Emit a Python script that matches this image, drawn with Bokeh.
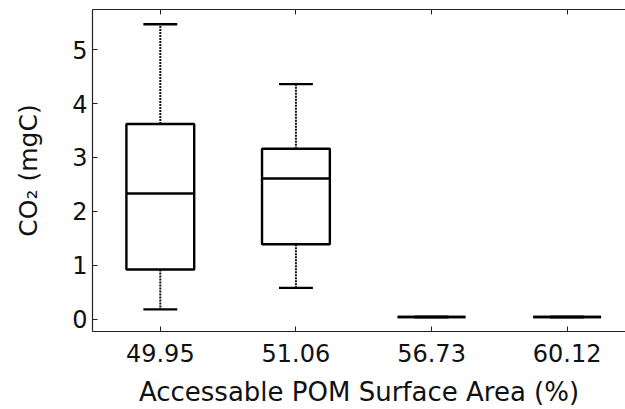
from bokeh.plotting import figure
from bokeh.models import LinearAxis, FixedTicker, Range1d
from bokeh.embed import file_html
from bokeh.resources import INLINE

# data
categories = ["49.95", "51.06", "56.73", "60.12"]
lower_whisker = [0.18, 0.58, 0.04, 0.04]
q1 = [0.92, 1.39, 0.04, 0.04]
median = [2.33, 2.61, 0.04, 0.04]
q3 = [3.62, 3.16, 0.04, 0.04]
upper_whisker = [5.47, 4.36, 0.04, 0.04]
y_ticks = [0, 1, 2, 3, 4, 5]

pos = [i + 1 for i in range(len(categories))]
box_half = 0.25
cap_half = 0.125

FONT = "DejaVu Sans"

p = figure(width=625, height=409, output_backend="svg", toolbar_location=None,
           x_range=Range1d(0.5, 4.43), y_range=Range1d(-0.23, 5.745),
           min_border_left=92, min_border_right=0, min_border_top=9, min_border_bottom=76,
           x_axis_location=None, y_axis_location=None)
p.outline_line_color = None
p.grid.visible = False
p.background_fill_color = "white"
p.border_fill_color = "white"

# whiskers (dotted)
p.segment(x0=pos, y0=q3, x1=pos, y1=upper_whisker, line_color="#111111", line_width=2, line_dash="2 1")
p.segment(x0=pos, y0=q1, x1=pos, y1=lower_whisker, line_color="#111111", line_width=2, line_dash="2 1")
# caps
p.segment(x0=[x - cap_half for x in pos], y0=upper_whisker, x1=[x + cap_half for x in pos], y1=upper_whisker,
          line_color="black", line_width=2.4)
p.segment(x0=[x - cap_half for x in pos], y0=lower_whisker, x1=[x + cap_half for x in pos], y1=lower_whisker,
          line_color="black", line_width=2.4)
# boxes
p.quad(left=[x - box_half for x in pos], right=[x + box_half for x in pos], bottom=q1, top=q3,
       fill_color=None, line_color="black", line_width=2.4)
# medians
p.segment(x0=[x - box_half for x in pos], y0=median, x1=[x + box_half for x in pos], y1=median,
          line_color="black", line_width=2.4)

def style(ax):
    ax.axis_line_color = "#222222"
    ax.axis_line_width = 1.2
    ax.major_tick_line_color = "#222222"
    ax.major_tick_in = 5
    ax.major_tick_out = 0
    ax.minor_tick_line_color = None
    ax.major_label_text_font = FONT
    ax.major_label_text_color = "#111111"
    ax.axis_label_text_font = FONT
    ax.axis_label_text_font_style = "normal"
    ax.axis_label_text_color = "#111111"

xb = LinearAxis(ticker=FixedTicker(ticks=pos),
                major_label_overrides={x: c for x, c in zip(pos, categories)},
                axis_label="Accessable POM Surface Area (%)")
style(xb)
xb.major_label_text_font_size = "24px"
xb.axis_label_text_font_size = "26px"
xb.major_label_standoff = 12
xb.axis_label_standoff = 12
p.add_layout(xb, "below")

xt = LinearAxis(ticker=FixedTicker(ticks=pos))
style(xt)
xt.major_label_text_font_size = "0px"
xt.major_label_standoff = 0
xt.major_label_overrides = {x: "" for x in pos}
p.add_layout(xt, "above")

yl = LinearAxis(ticker=FixedTicker(ticks=y_ticks), axis_label="CO₂ (mgC)")
style(yl)
yl.major_label_text_font_size = "24px"
yl.axis_label_text_font_size = "25px"
yl.major_label_standoff = 5
yl.axis_label_standoff = 26
p.add_layout(yl, "left")

open("out.html", "w").write(file_html(p, INLINE))
